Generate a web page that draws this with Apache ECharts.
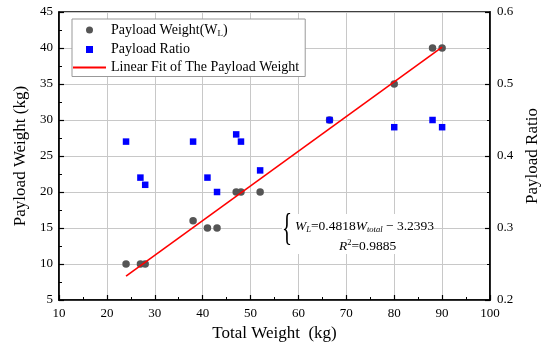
<!DOCTYPE html>
<html>
<head>
<meta charset="utf-8">
<script src="https://cdn.jsdelivr.net/npm/echarts@6/dist/echarts.min.js"></script>
<style>html,body{margin:0;padding:0;background:#fff}#c{width:550px;height:352px}</style>
</head>
<body>
<div id="c"></div>
<script>
// Data
const totalWeight   = [24, 27, 28, 38, 41, 43, 47, 48, 52, 66.5, 80, 88, 90];
const payloadWeight = [10, 10, 10, 16, 15, 15, 20, 20, 20, 30, 35, 40, 40];
const payloadRatio  = [0.42, 0.37, 0.36, 0.42, 0.37, 0.35, 0.43, 0.42, 0.38, 0.45, 0.44, 0.45, 0.44];
const fitX = [24, 90];
const fitY = [8.32, 40.12];
const seriesNames = ['Payload Weight(W_L)', 'Payload Ratio', 'Linear Fit of The Payload Weight'];
const xTicks = [10, 20, 30, 40, 50, 60, 70, 80, 90, 100];
const yLeftTicks = [5, 10, 15, 20, 25, 30, 35, 40, 45];
const yRightTicks = [0.2, 0.3, 0.4, 0.5, 0.6];

const FONT = 'Liberation Serif';
const chart = echarts.init(document.getElementById('c'));

const axisCommon = {
  axisLine: { show: true, onZero: false, lineStyle: { color: '#000', width: 1.6 } },
  axisTick: { show: true, inside: true, length: 5, lineStyle: { color: '#000', width: 1.2 } },
  minorTick: { show: true, splitNumber: 2, length: 3, lineStyle: { color: '#000', width: 1 } },
  axisLabel: { color: '#000', fontFamily: FONT, fontSize: 13 },
  nameTextStyle: { color: '#000', fontFamily: FONT, fontSize: 17 }
};

chart.setOption({
  animation: false,
  backgroundColor: '#fff',
  grid: { left: 59, right: 60, top: 12, bottom: 52, show: true, borderColor: '#000', borderWidth: 1.6, backgroundColor: 'transparent' },
  legend: {
    orient: 'vertical', left: 72, top: 19,
    itemWidth: 33, itemHeight: 7, itemGap: 4,
    padding: [4, 6, 2, 1],
    backgroundColor: '#fff', borderColor: '#999', borderWidth: 1,
    data: [
      { name: seriesNames[0], icon: 'circle' },
      { name: seriesNames[1], icon: 'path://M0,0L6,0L6,6L0,6Z' },
      { name: seriesNames[2], icon: 'path://M0,0L33,0L33,2L0,2Z' }
    ],
    formatter: function (n) {
      if (n === seriesNames[0]) return '{n|Payload Weight(W}{s|L}{n|)}';
      return '{n|' + n + '}';
    },
    textStyle: {
      color: '#000', fontFamily: FONT, fontSize: 14,
      rich: {
        n: { fontFamily: FONT, fontSize: 14, color: '#000', lineHeight: 17 },
        s: { fontFamily: FONT, fontSize: 9, color: '#000', verticalAlign: 'bottom', lineHeight: 17 }
      }
    }
  },
  xAxis: Object.assign({}, axisCommon, {
    type: 'value', min: xTicks[0], max: xTicks[xTicks.length - 1], interval: 10,
    name: 'Total Weight  (kg)', nameLocation: 'middle', nameGap: 25,
    axisLabel: Object.assign({}, axisCommon.axisLabel, { margin: 7 }),
    splitLine: { show: true, lineStyle: { color: '#c8c8c8', width: 1 } }
  }),
  yAxis: [
    Object.assign({}, axisCommon, {
      type: 'value', min: yLeftTicks[0], max: yLeftTicks[yLeftTicks.length - 1], interval: 5,
      name: 'Payload Weight (kg)', nameLocation: 'middle', nameGap: 26,
      axisLabel: Object.assign({}, axisCommon.axisLabel, { margin: 6 }),
      splitLine: { show: true, lineStyle: { color: '#c8c8c8', width: 1 } }
    }),
    Object.assign({}, axisCommon, {
      type: 'value', position: 'right', min: yRightTicks[0], max: yRightTicks[yRightTicks.length - 1], interval: 0.1,
      name: 'Payload Ratio', nameLocation: 'middle', nameGap: 34,
      axisLabel: Object.assign({}, axisCommon.axisLabel, { margin: 7, formatter: v => v.toFixed(1) }),
      splitLine: { show: false }
    })
  ],
  series: [
    {
      name: seriesNames[0], type: 'scatter', symbol: 'circle', symbolSize: 7.5, z: 3,
      itemStyle: { color: '#555555', opacity: 1 },
      data: totalWeight.map((x, i) => [x, payloadWeight[i]])
    },
    {
      name: seriesNames[1], type: 'scatter', symbol: 'rect', symbolSize: 6.5, yAxisIndex: 1, z: 4,
      itemStyle: { color: '#0000ff', opacity: 1 },
      data: totalWeight.map((x, i) => [x, payloadRatio[i]])
    },
    {
      name: seriesNames[2], type: 'line', symbol: 'none', showSymbol: false, z: 5,
      lineStyle: { color: '#ff0000', width: 1.6 }, itemStyle: { color: '#ff0000' },
      data: fitX.map((x, i) => [x, fitY[i]])
    }
  ],
  graphic: [
    { type: 'rect', left: 282, top: 214, shape: { width: 151, height: 40 }, style: { fill: '#fff' }, z: 10 },
    { type: 'text', left: 282, top: 211, z: 11, style: { text: '{', font: '38px "Liberation Serif"', fill: '#000' }, scaleX: 0.55 },
    { type: 'text', left: 295, top: 219, z: 11, style: {
        text: '{i|W}{s|L}{n|=0.4818}{i|W}{s|total}{n| − 3.2393}',
        rich: {
          i: { fontFamily: FONT, fontStyle: 'italic', fontSize: 13.5, fill: '#000', lineHeight: 16 },
          n: { fontFamily: FONT, fontSize: 13.5, fill: '#000', lineHeight: 16 },
          s: { fontFamily: FONT, fontStyle: 'italic', fontSize: 8.5, fill: '#000', verticalAlign: 'bottom', lineHeight: 16 }
        }
      } },
    { type: 'text', left: 339, top: 238, z: 11, style: {
        text: '{i|R}{p|2}{n|=0.9885}',
        rich: {
          i: { fontFamily: FONT, fontStyle: 'italic', fontSize: 13.5, fill: '#000', lineHeight: 16 },
          n: { fontFamily: FONT, fontSize: 13.5, fill: '#000', lineHeight: 16 },
          p: { fontFamily: FONT, fontSize: 8.5, fill: '#000', verticalAlign: 'top', lineHeight: 16 }
        }
      } }
  ]
});
</script>
</body>
</html>
